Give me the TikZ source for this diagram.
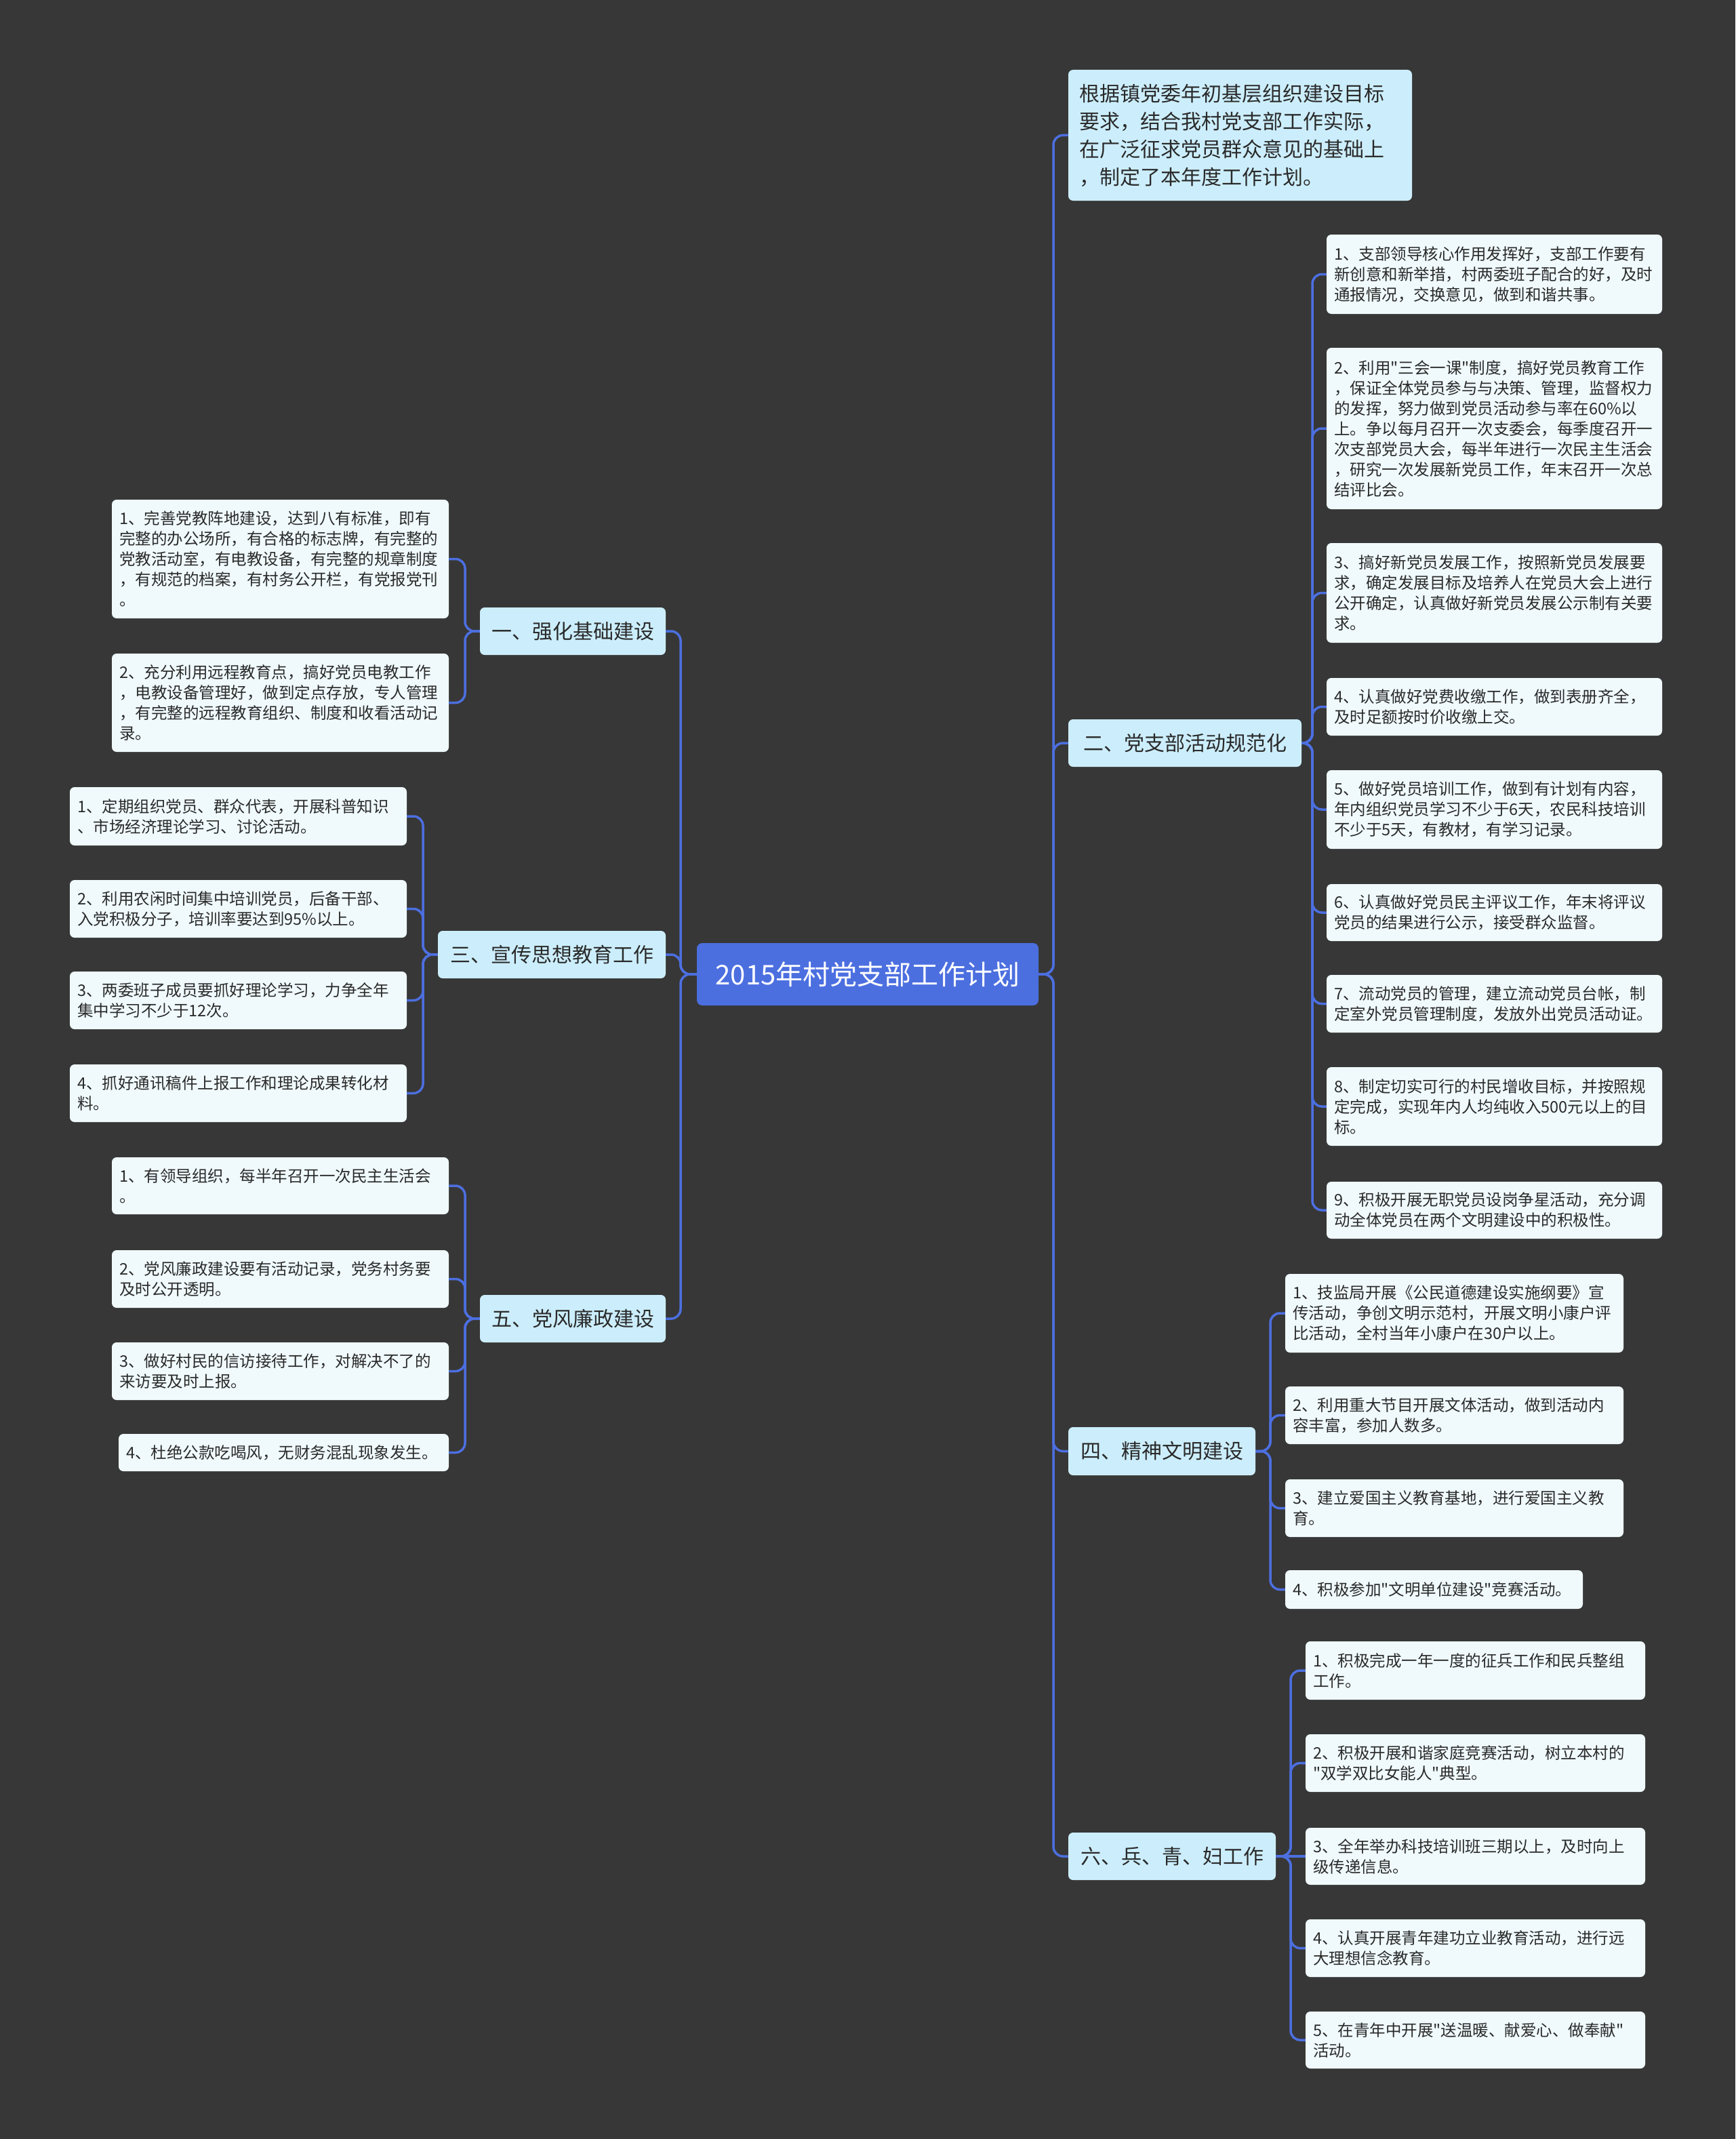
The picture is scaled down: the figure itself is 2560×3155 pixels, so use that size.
\documentclass[tikz,border=0pt]{standalone}
\usepackage{fontspec}
\setmainfont{Noto Sans CJK SC}[Ligatures=TeXOff]
\definecolor{bgc}{HTML}{373737}
\definecolor{linec}{HTML}{4C6FE0}
\definecolor{rootc}{HTML}{4C6FE0}
\definecolor{midc}{HTML}{CCEEFC}
\definecolor{leafc}{HTML}{F0FAFD}
\definecolor{txtc}{HTML}{2A2A2A}
\newcommand{\mybox}[8]{%
\pgfmathsetmacro{\mytw}{#6-#4-2*#2}%
\pgfmathsetmacro{\mybh}{#7-#5}%
\pgfmathsetmacro{\mycx}{(#4+#6)/2}%
\pgfmathsetmacro{\mycy}{(#5+#7)/2}%
\node[#1,inner xsep=#2pt,text width=\mytw pt,minimum height=\mybh pt] (#3) at (\mycx,\mycy) {#8};}
\newcommand{\linkR}[3]{\draw[conn] (#1.east) -- (#1.east -| #2) -- (#3.west -| #2) -- (#3.west);}
\newcommand{\linkL}[3]{\draw[conn] (#1.west) -- (#1.west -| #2) -- (#3.east -| #2) -- (#3.east);}
\begin{document}
\begin{tikzpicture}[x=1pt,y=-1pt,
 rootbox/.style={fill=rootc, text=white, rounded corners=8pt, font=\fontsize{40}{48}\selectfont, inner ysep=0pt, align=center},
 midbox/.style={fill=midc, text=txtc, rounded corners=7pt, font=\fontsize{30}{41}\selectfont, inner ysep=0pt, align=center},
 introbox/.style={fill=midc, text=txtc, rounded corners=7pt, font=\fontsize{30}{41}\selectfont, inner ysep=0pt, align=left},
 leafbox/.style={fill=leafc, text=txtc, rounded corners=7pt, font=\fontsize{23.5}{30}\selectfont, inner ysep=0pt, align=left},
 conn/.style={draw=linec, line width=3.5pt, rounded corners=14pt}]
\fill[bgc] (0,0) rectangle (2560,3155);
\useasboundingbox (0,0) rectangle (2560,3155);
% trunks
\coordinate (tR) at (1554,0);
\coordinate (tL) at (1004,0);
\coordinate (t2) at (1936,0);
\coordinate (t4) at (1874,0);
\coordinate (t6) at (1904,0);
\coordinate (t1) at (686,0);
\coordinate (t3) at (624,0);
\coordinate (t5) at (686,0);
% root
\mybox{rootbox}{20}{root}{1028}{1391}{1532}{1483}{2015年村党支部工作计划}
% right level 1
\mybox{introbox}{16}{intro}{1576}{103}{2083}{296}{根据镇党委年初基层组织建设目标\\要求，结合我村党支部工作实际，\\在广泛征求党员群众意见的基础上\\，制定了本年度工作计划。}
\mybox{midbox}{16}{b2}{1576}{1061}{1920}{1131}{二、党支部活动规范化}
\mybox{midbox}{16}{b4}{1576}{2105}{1852}{2176}{四、精神文明建设}
\mybox{midbox}{16}{b6}{1576}{2703}{1882}{2773}{六、兵、青、妇工作}
% left level 1
\mybox{midbox}{16}{b1}{708}{896}{982}{966}{一、强化基础建设}
\mybox{midbox}{16}{b3}{646}{1373}{982}{1443}{三、宣传思想教育工作}
\mybox{midbox}{16}{b5}{708}{1910}{982}{1980}{五、党风廉政建设}
% group 2
\mybox{leafbox}{11}{l21}{1957}{346}{2452}{463}{1、支部领导核心作用发挥好，支部工作要有\\新创意和新举措，村两委班子配合的好，及时\\通报情况，交换意见，做到和谐共事。}
\mybox{leafbox}{11}{l22}{1957}{513}{2452}{751}{2、利用"三会一课"制度，搞好党员教育工作\\，保证全体党员参与与决策、管理，监督权力\\的发挥，努力做到党员活动参与率在60\%以\\上。争以每月召开一次支委会，每季度召开一\\次支部党员大会，每半年进行一次民主生活会\\，研究一次发展新党员工作，年末召开一次总\\结评比会。}
\mybox{leafbox}{11}{l23}{1957}{801}{2452}{948}{3、搞好新党员发展工作，按照新党员发展要\\求，确定发展目标及培养人在党员大会上进行\\公开确定，认真做好新党员发展公示制有关要\\求。}
\mybox{leafbox}{11}{l24}{1957}{1000}{2452}{1085}{4、认真做好党费收缴工作，做到表册齐全，\\及时足额按时价收缴上交。}
\mybox{leafbox}{11}{l25}{1957}{1136}{2452}{1252}{5、做好党员培训工作，做到有计划有内容，\\年内组织党员学习不少于6天，农民科技培训\\不少于5天，有教材，有学习记录。}
\mybox{leafbox}{11}{l26}{1957}{1304}{2452}{1388}{6、认真做好党员民主评议工作，年末将评议\\党员的结果进行公示，接受群众监督。}
\mybox{leafbox}{11}{l27}{1957}{1438}{2452}{1523}{7、流动党员的管理，建立流动党员台帐，制\\定室外党员管理制度，发放外出党员活动证。}
\mybox{leafbox}{11}{l28}{1957}{1574}{2452}{1690}{8、制定切实可行的村民增收目标，并按照规\\定完成，实现年内人均纯收入500元以上的目\\标。}
\mybox{leafbox}{11}{l29}{1957}{1743}{2452}{1827}{9、积极开展无职党员设岗争星活动，充分调\\动全体党员在两个文明建设中的积极性。}
% group 4
\mybox{leafbox}{11}{l41}{1896}{1879}{2395}{1995}{1、技监局开展《公民道德建设实施纲要》宣\\传活动，争创文明示范村，开展文明小康户评\\比活动，全村当年小康户在30户以上。}
\mybox{leafbox}{11}{l42}{1896}{2045}{2395}{2130}{2、利用重大节目开展文体活动，做到活动内\\容丰富，参加人数多。}
\mybox{leafbox}{11}{l43}{1896}{2182}{2395}{2267}{3、建立爱国主义教育基地，进行爱国主义教\\育。}
\mybox{leafbox}{11}{l44}{1896}{2316}{2335}{2373}{4、积极参加"文明单位建设"竞赛活动。}
% group 6
\mybox{leafbox}{11}{l61}{1926}{2421}{2427}{2507}{1、积极完成一年一度的征兵工作和民兵整组\\工作。}
\mybox{leafbox}{11}{l62}{1926}{2558}{2427}{2643}{2、积极开展和谐家庭竞赛活动，树立本村的\\"双学双比女能人"典型。}
\mybox{leafbox}{11}{l63}{1926}{2696}{2427}{2780}{3、全年举办科技培训班三期以上，及时向上\\级传递信息。}
\mybox{leafbox}{11}{l64}{1926}{2831}{2427}{2916}{4、认真开展青年建功立业教育活动，进行远\\大理想信念教育。}
\mybox{leafbox}{11}{l65}{1926}{2967}{2427}{3051}{5、在青年中开展"送温暖、献爱心、做奉献"\\活动。}
% group 1
\mybox{leafbox}{11}{l11}{165}{737}{662}{912}{1、完善党教阵地建设，达到八有标准，即有\\完整的办公场所，有合格的标志牌，有完整的\\党教活动室，有电教设备，有完整的规章制度\\，有规范的档案，有村务公开栏，有党报党刊\\。}
\mybox{leafbox}{11}{l12}{165}{964}{662}{1109}{2、充分利用远程教育点，搞好党员电教工作\\，电教设备管理好，做到定点存放，专人管理\\，有完整的远程教育组织、制度和收看活动记\\录。}
% group 3
\mybox{leafbox}{11}{l31}{103}{1161}{600}{1247}{1、定期组织党员、群众代表，开展科普知识\\、市场经济理论学习、讨论活动。}
\mybox{leafbox}{11}{l32}{103}{1298}{600}{1383}{2、利用农闲时间集中培训党员，后备干部、\\入党积极分子，培训率要达到95\%以上。}
\mybox{leafbox}{11}{l33}{103}{1433}{600}{1518}{3、两委班子成员要抓好理论学习，力争全年\\集中学习不少于12次。}
\mybox{leafbox}{11}{l34}{103}{1570}{600}{1655}{4、抓好通讯稿件上报工作和理论成果转化材\\料。}
% group 5
\mybox{leafbox}{11}{l51}{165}{1707}{662}{1791}{1、有领导组织，每半年召开一次民主生活会\\。}
\mybox{leafbox}{11}{l52}{165}{1844}{662}{1929}{2、党风廉政建设要有活动记录，党务村务要\\及时公开透明。}
\mybox{leafbox}{11}{l53}{165}{1980}{662}{2065}{3、做好村民的信访接待工作，对解决不了的\\来访要及时上报。}
\mybox{leafbox}{11}{l54}{175}{2115}{662}{2170}{4、杜绝公款吃喝风，无财务混乱现象发生。}
% connectors root
\linkR{root}{tR}{intro}
\linkR{root}{tR}{b2}
\linkR{root}{tR}{b4}
\linkR{root}{tR}{b6}
\linkL{root}{tL}{b1}
\linkL{root}{tL}{b3}
\linkL{root}{tL}{b5}
% group connectors
\foreach \c in {l21,l22,l23,l24,l25,l26,l27,l28,l29} {\linkR{b2}{t2}{\c}}
\foreach \c in {l41,l42,l43,l44} {\linkR{b4}{t4}{\c}}
\foreach \c in {l61,l62,l64,l65} {\linkR{b6}{t6}{\c}}
\draw[conn] (b6.east) -- (l63.west);
\foreach \c in {l11,l12} {\linkL{b1}{t1}{\c}}
\foreach \c in {l31,l32,l33,l34} {\linkL{b3}{t3}{\c}}
\foreach \c in {l51,l52,l53,l54} {\linkL{b5}{t5}{\c}}
\end{tikzpicture}
\end{document}
